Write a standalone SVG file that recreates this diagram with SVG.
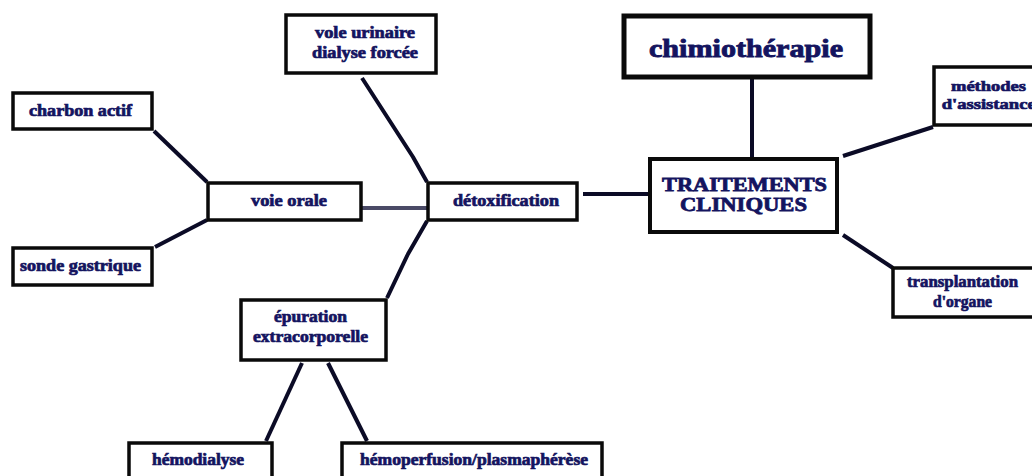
<svg xmlns="http://www.w3.org/2000/svg" width="1032" height="476" viewBox="0 0 1032 476">
<style>
.box{fill:#ffffff;stroke:#0a0a0a;stroke-width:3.5}
.t{font-family:"Liberation Serif","Times New Roman",serif;font-weight:bold;fill:#14145f;stroke:#14145f;stroke-width:0.7;text-anchor:middle;font-size:16.5px}
.c{fill:none;stroke:#0b0b26;stroke-width:4;stroke-linecap:butt;stroke-linejoin:round}
</style>
<rect width="1032" height="476" fill="#ffffff"/>
<g id="connectors">
<line class="c" x1="752" y1="78" x2="752" y2="157"/>
<line class="c" x1="583" y1="194" x2="648" y2="194"/>
<line class="c" x1="362" y1="208" x2="427" y2="208" style="stroke:#4a4a66"/>
<line class="c" x1="154" y1="131" x2="207" y2="182"/>
<line class="c" x1="155" y1="247" x2="207" y2="220"/>
<path class="c" d="M362,78 L413,157 L427,182"/>
<path class="c" d="M427,221 L408,254 L387,298"/>
<line class="c" x1="302" y1="363" x2="266" y2="441"/>
<line class="c" x1="328" y1="363" x2="367" y2="441"/>
<line class="c" x1="843" y1="156" x2="933" y2="127"/>
<line class="c" x1="843" y1="235" x2="893" y2="268"/>
</g>
<g id="chimiotherapie">
<rect class="box" x="624" y="16" width="246" height="61" style="stroke-width:5"/>
<text class="t" x="746" y="57" style="font-size:26px;stroke-width:0.9" textLength="194" lengthAdjust="spacingAndGlyphs">chimiothérapie</text>
</g>
<g id="traitements">
<rect class="box" x="650" y="159" width="187" height="73" style="stroke-width:4"/>
<text class="t" x="744.5" y="191" style="font-size:19.5px;stroke-width:0.8" textLength="165" lengthAdjust="spacingAndGlyphs">TRAITEMENTS</text>
<text class="t" x="743.5" y="211" style="font-size:19.5px;stroke-width:0.8" textLength="127" lengthAdjust="spacingAndGlyphs">CLINIQUES</text>
</g>
<g id="methodes">
<rect class="box" x="934" y="67" width="110" height="58"/>
<text class="t" x="988.5" y="91" style="font-size:15px" textLength="75" lengthAdjust="spacingAndGlyphs">méthodes</text>
<text class="t" x="988.7" y="108.5" style="font-size:15px" textLength="94" lengthAdjust="spacingAndGlyphs">d'assistance</text>
</g>
<g id="transplantation">
<rect class="box" x="893" y="268" width="150" height="49"/>
<text class="t" x="962.5" y="287" textLength="111" lengthAdjust="spacingAndGlyphs">transplantation</text>
<text class="t" x="962.5" y="307" textLength="59" lengthAdjust="spacingAndGlyphs">d'organe</text>
</g>
<g id="vole-urinaire">
<rect class="box" x="286" y="15" width="150" height="58"/>
<text class="t" x="365" y="38" textLength="100" lengthAdjust="spacingAndGlyphs">vole urinaire</text>
<text class="t" x="365" y="58" textLength="106" lengthAdjust="spacingAndGlyphs">dialyse forcée</text>
</g>
<g id="charbon-actif">
<rect class="box" x="13" y="93" width="139" height="36"/>
<text class="t" x="80.5" y="116" textLength="103" lengthAdjust="spacingAndGlyphs">charbon actif</text>
</g>
<g id="voie-orale">
<rect class="box" x="208" y="183" width="153" height="37"/>
<text class="t" x="289" y="206" textLength="76" lengthAdjust="spacingAndGlyphs">voie orale</text>
</g>
<g id="sonde-gastrique">
<rect class="box" x="13" y="248" width="139" height="37"/>
<text class="t" x="80.5" y="271" textLength="121" lengthAdjust="spacingAndGlyphs">sonde gastrique</text>
</g>
<g id="detoxification">
<rect class="box" x="428" y="183" width="149" height="37"/>
<text class="t" x="506" y="206" textLength="106" lengthAdjust="spacingAndGlyphs">détoxification</text>
</g>
<g id="epuration">
<rect class="box" x="241" y="300" width="145" height="60"/>
<text class="t" x="310.5" y="322" textLength="73" lengthAdjust="spacingAndGlyphs">épuration</text>
<text class="t" x="310.5" y="342" textLength="115" lengthAdjust="spacingAndGlyphs">extracorporelle</text>
</g>
<g id="hemodialyse">
<rect class="box" x="129" y="443" width="143" height="45"/>
<text class="t" x="198" y="465" textLength="92" lengthAdjust="spacingAndGlyphs">hémodialyse</text>
</g>
<g id="hemoperfusion">
<rect class="box" x="342" y="443" width="260" height="45"/>
<text class="t" x="474" y="465" textLength="228" lengthAdjust="spacingAndGlyphs">hémoperfusion/plasmaphérèse</text>
</g>
</svg>
